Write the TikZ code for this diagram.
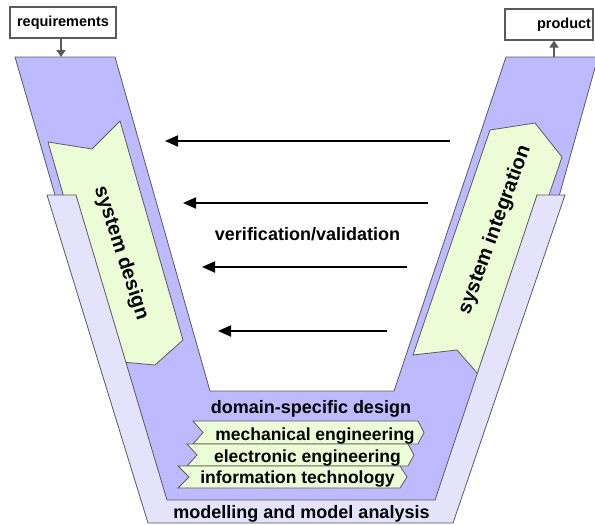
\documentclass[tikz,border=0pt]{standalone}
\usepackage{fontspec}
\setmainfont{Liberation Sans}
\usetikzlibrary{arrows.meta}
\definecolor{vpurple}{RGB}{190,186,255}
\definecolor{vlav}{RGB}{229,227,252}
\definecolor{vgreen}{RGB}{236,252,214}
\definecolor{vedge}{RGB}{90,90,90}
\begin{document}
\begin{tikzpicture}[x=1pt,y=-1pt,
  shapeline/.style={draw=vedge, line width=0.8pt, line join=miter},
  lbl/.style={font=\fontsize{18}{20}\selectfont\bfseries, inner sep=0pt},
  bantext/.style={font=\fontsize{17.5}{20}\selectfont\bfseries, inner sep=0pt, anchor=base},
  armtext/.style={font=\fontsize{20}{22}\selectfont\bfseries, inner sep=0pt},
  iobox/.style={draw=vedge, line width=1.3pt, fill=white, font=\fontsize{14.5}{16}\selectfont\bfseries, inner sep=0pt},
  ioarrow/.style={draw=vedge, line width=2pt, -{Triangle[length=7pt,width=9pt]}},
  varrow/.style={draw=black, line width=2pt, -{Triangle[length=13pt,width=11pt]}}
]
\useasboundingbox (0,0) rectangle (595,525);
\clip (0,0) rectangle (595,525);

% main V body
\path[shapeline, fill=vpurple] (15,57) -- (115,57) -- (210,391) -- (394,391) -- (506,57) -- (598,57)
  -- (558,200) -- (447,505) -- (150,505) -- (55,195) -- cycle;

% system design arrow
\path[shapeline, fill=vgreen] (48,142) -- (92,149) -- (120,121) -- (183,340) -- (155,365) -- (111,361) -- cycle;
% system integration arrow
\path[shapeline, fill=vgreen] (490,130) -- (535,123) -- (562,157) -- (485,382) -- (457,350) -- (413,355) -- cycle;

% modelling U band
\path[shapeline, fill=vlav] (47,195) -- (76,195) -- (167,500) -- (435,500) -- (537,195) -- (565,195)
  -- (453,523) -- (148,523) -- cycle;

% domain banners
\path[shapeline, fill=vgreen] (193,421) -- (418,421) -- (424,432.5) -- (418,444) -- (193,444) -- (203,432.5) -- cycle;
\path[shapeline, fill=vgreen] (187,444) -- (408,444) -- (414,455) -- (408,466) -- (187,466) -- (197,455) -- cycle;
\path[shapeline, fill=vgreen] (178,466) -- (400,466) -- (407,477) -- (400,488) -- (178,488) -- (189,477) -- cycle;

\node[bantext] (mech) at (315,440.5) {mechanical engineering};
\node[bantext] (elec) at (307.5,462) {electronic engineering};
\node[bantext] (info) at (297.5,483.5) {information technology};

\node[lbl, anchor=base] (dsd) at (311,413) {domain-specific design};
\node[lbl, anchor=base] (mma) at (301.5,518) {modelling and model analysis};

\node[armtext, rotate=-72] (sd) at (121,253) {system design};
\node[armtext, rotate=70] (si) at (495,230) {system integration};

% verification arrows
\coordinate (a1s) at (450,141); \coordinate (a1e) at (165,141);
\coordinate (a2s) at (428,203); \coordinate (a2e) at (183,203);
\coordinate (a3s) at (407,267); \coordinate (a3e) at (202,267);
\coordinate (a4s) at (387,331); \coordinate (a4e) at (218,331);
\draw[varrow] (a1s) -- (a1e);
\draw[varrow] (a2s) -- (a2e);
\draw[varrow] (a3s) -- (a3e);
\draw[varrow] (a4s) -- (a4e);
\node[lbl, anchor=base] (vv) at (307.5,240.5) {verification/validation};

% input / output
\node[iobox, minimum width=106pt, minimum height=31pt] (req) at (63,22.5) {requirements};
\node[iobox, minimum height=31pt, text width=84pt, inner xsep=2pt, align=right] (prod) at (549,24.5) {product};
\coordinate (reqin) at (61,57);
\coordinate (prodout) at (554,57);
\draw[ioarrow] (req.south -| reqin) -- (reqin);
\draw[ioarrow] (prodout) -- (prod.south -| prodout);
\end{tikzpicture}
\end{document}
